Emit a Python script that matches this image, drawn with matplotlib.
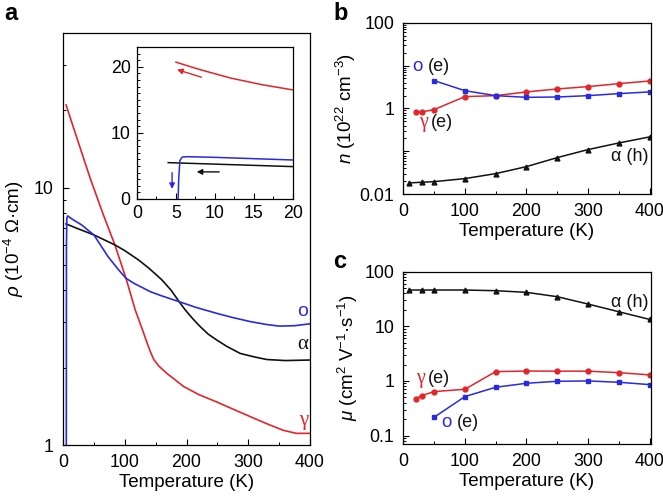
import numpy as np
import matplotlib
matplotlib.use("Agg")
import matplotlib.pyplot as plt
from matplotlib.ticker import LogLocator, MultipleLocator, FuncFormatter, NullFormatter

plt.rcParams['font.family'] = ['Liberation Sans', 'DejaVu Sans']
plt.rcParams['mathtext.fontset'] = 'custom'
plt.rcParams['mathtext.rm'] = 'Liberation Sans'
plt.rcParams['mathtext.it'] = 'Liberation Sans:italic'
plt.rcParams['font.size'] = 12.8
plt.rcParams['axes.labelsize'] = 13.5

BLUE = '#2a2ae0'
RED = '#e3242b'
BLACK = '#111111'

# ---- panel a: resistivity (10^-4 Ohm cm) ----
t_red = [5, 20, 44, 65, 84, 102, 117, 130, 136, 141, 147, 155, 168, 182, 195, 220, 249, 275, 303, 330, 357, 378, 400]
rho_red = [21, 16.3, 10.9, 7.9, 6.0, 4.45, 3.35, 2.75, 2.5, 2.32, 2.15, 2.03, 1.9, 1.79, 1.69, 1.57, 1.47, 1.38, 1.29, 1.21, 1.14, 1.11, 1.11]

t_blue = [5.3, 5.6, 6.2, 7.5, 15, 30, 50, 73, 90, 102, 115, 128, 141, 160, 188, 215, 249, 275, 303, 330, 350, 375, 400]
rho_blue = [0.5, 6.0, 7.6, 7.78, 7.55, 7.18, 6.56, 5.4, 4.8, 4.45, 4.25, 4.1, 3.95, 3.8, 3.61, 3.43, 3.25, 3.13, 3.02, 2.94, 2.9, 2.91, 2.96]

t_black = [5, 20, 50, 84, 100, 122, 140, 160, 175, 188, 198, 210, 222, 235, 249, 265, 287, 310, 330, 360, 400]
rho_black = [7.24, 7.0, 6.56, 6.0, 5.7, 5.25, 4.85, 4.39, 4.0, 3.61, 3.35, 3.1, 2.89, 2.7, 2.56, 2.42, 2.27, 2.2, 2.15, 2.13, 2.14]

# inset (low temperature)
ti_red = [5, 8, 12, 16, 20]
ri_red = [20.7, 19.6, 18.3, 17.3, 16.5]
ti_blue = [5.25, 5.35, 5.5, 5.8, 6.5, 10, 15, 20]
ri_blue = [-1, 3, 5.8, 6.35, 6.4, 6.3, 6.1, 5.9]
ti_black = [4, 20]
ri_black = [5.5, 4.9]

# ---- panel b: carrier density (10^22 cm^-3) ----
t_b_o = [50, 100, 150, 200, 250, 300, 350, 400]
n_o = [4.46, 2.6, 1.99, 1.82, 1.85, 1.99, 2.22, 2.43]
t_b_g = [20, 30, 50, 100, 150, 200, 250, 300, 350, 400]
n_g = [0.81, 0.83, 0.94, 1.89, 1.99, 2.43, 2.85, 3.23, 3.79, 4.37]
t_b_a = [10, 30, 50, 100, 150, 200, 250, 300, 350, 400]
n_a = [0.0184, 0.0191, 0.0197, 0.0232, 0.0303, 0.0441, 0.0715, 0.110, 0.157, 0.217]

# ---- panel c: mobility (cm^2 V^-1 s^-1) ----
t_c_a = [10, 30, 50, 100, 150, 200, 250, 300, 350, 400]
mu_a = [46.2, 46.2, 46.2, 46.2, 44.9, 41.9, 34.9, 25.6, 18.5, 13.4]
t_c_g = [20, 30, 50, 100, 150, 200, 250, 300, 350, 400]
mu_g = [0.469, 0.54, 0.638, 0.704, 1.48, 1.52, 1.51, 1.51, 1.42, 1.29]
t_c_o = [50, 100, 150, 200, 250, 300, 350, 400]
mu_o = [0.216, 0.517, 0.766, 0.906, 0.986, 1.0, 0.946, 0.857]


def style_ax(ax, pad=6.5):
    ax.tick_params(which='both', direction='in', top=False, right=False)
    ax.tick_params(which='major', length=4, width=0.8, pad=pad)
    ax.tick_params(which='minor', length=2.2, width=0.7)
    for s in ax.spines.values():
        s.set_linewidth(0.9)


def log_labels(keep):
    def f(v, pos):
        for k in keep:
            if abs(v - k) / k < 1e-6:
                return ('%g' % k)
        return ''
    return FuncFormatter(f)


fig = plt.figure(figsize=(6.63, 4.96), dpi=100)

# panel a
ax_a = fig.add_axes([0.095, 0.1028, 0.3726, 0.8307])
ax_a.plot(t_red, rho_red, color=RED, lw=1.2)
ax_a.plot(t_black, rho_black, color=BLACK, lw=1.2)
ax_a.plot(t_blue, rho_blue, color=BLUE, lw=1.2)
ax_a.set_yscale('log')
ax_a.set_xlim(0, 400)
ax_a.set_ylim(1, 40)
ax_a.xaxis.set_major_locator(MultipleLocator(100))
ax_a.xaxis.set_minor_locator(MultipleLocator(50))
ax_a.yaxis.set_major_locator(LogLocator(base=10, numticks=10))
ax_a.yaxis.set_minor_locator(LogLocator(base=10, subs=np.arange(2, 10), numticks=20))
ax_a.yaxis.set_major_formatter(log_labels([1, 10]))
ax_a.yaxis.set_minor_formatter(NullFormatter())
style_ax(ax_a)
ax_a.set_xlabel('Temperature (K)', labelpad=2)
ax_a.set_ylabel(r'$\rho$ (10$^{-4}$ Ω·cm)', labelpad=6)
ax_a.text(397, 3.3, 'o', color=BLUE, fontsize=14, ha='right', va='center')
ax_a.text(397, 2.45, 'α', color=BLACK, fontsize=15, ha='right', va='center', family='Liberation Serif')
ax_a.text(397, 1.24, 'γ', color=RED, fontsize=15, ha='right', va='center', family='Liberation Serif')

# inset
ax_i = fig.add_axes([0.2066, 0.5988, 0.2353, 0.3065])
ax_i.plot(ti_red, ri_red, color=RED, lw=1.1)
ax_i.plot(ti_black, ri_black, color=BLACK, lw=1.1)
ax_i.plot(ti_blue, ri_blue, color=BLUE, lw=1.1)
ax_i.set_xlim(0, 20)
ax_i.set_ylim(0, 23)
ax_i.xaxis.set_major_locator(MultipleLocator(5))
ax_i.xaxis.set_minor_locator(MultipleLocator(2.5))
ax_i.yaxis.set_major_locator(MultipleLocator(10))
ax_i.yaxis.set_minor_locator(MultipleLocator(1))
style_ax(ax_i, pad=4.5)
ax_i.annotate('', xy=(4.8, 19.7), xytext=(8.6, 18.3),
              arrowprops=dict(arrowstyle='-|>', color=RED, lw=1.0, mutation_scale=8))
ax_i.annotate('', xy=(7.3, 4.1), xytext=(10.9, 4.1),
              arrowprops=dict(arrowstyle='-|>', color=BLACK, lw=1.0, mutation_scale=8))
ax_i.annotate('', xy=(4.5, 1.1), xytext=(4.5, 4.4),
              arrowprops=dict(arrowstyle='-|>', color=BLUE, lw=1.0, mutation_scale=8))

# panel b
ax_b = fig.add_axes([0.6083, 0.6083, 0.3732, 0.346])
ax_b.plot(t_b_a, n_a, color=BLACK, lw=1.1, marker='^', ms=3.5)
ax_b.plot(t_b_g, n_g, color=RED, lw=1.1, marker='o', ms=3.5)
ax_b.plot(t_b_o, n_o, color=BLUE, lw=1.1, marker='s', ms=3.2)
ax_b.set_yscale('log')
ax_b.set_xlim(0, 402)
ax_b.set_ylim(0.01, 100)
ax_b.xaxis.set_major_locator(MultipleLocator(100))
ax_b.xaxis.set_minor_locator(MultipleLocator(50))
ax_b.yaxis.set_major_locator(LogLocator(base=10, numticks=10))
ax_b.yaxis.set_minor_locator(LogLocator(base=10, subs=np.arange(2, 10), numticks=20))
ax_b.yaxis.set_major_formatter(log_labels([0.01, 1, 100]))
ax_b.yaxis.set_minor_formatter(NullFormatter())
style_ax(ax_b)
ax_b.set_xlabel('Temperature (K)', labelpad=2)
ax_b.set_ylabel(r'$n$ (10$^{22}$ cm$^{-3}$)', labelpad=1)
ax_b.text(15, 9.5, 'o', color=BLUE, fontsize=13.5, ha='left', va='center')
ax_b.text(40, 9.5, '(e)', color=BLACK, fontsize=13, ha='left', va='center')
ax_b.text(26, 0.48, 'γ', color=RED, fontsize=14.5, ha='left', va='center', family='Liberation Serif')
ax_b.text(45, 0.48, '(e)', color=BLACK, fontsize=13, ha='left', va='center')
ax_b.text(398, 0.075, 'α (h)', color=BLACK, fontsize=13, ha='right', va='center')

# panel c
ax_c = fig.add_axes([0.6083, 0.1048, 0.3732, 0.3474])
ax_c.plot(t_c_a, mu_a, color=BLACK, lw=1.1, marker='^', ms=3.5)
ax_c.plot(t_c_g, mu_g, color=RED, lw=1.1, marker='o', ms=3.5)
ax_c.plot(t_c_o, mu_o, color=BLUE, lw=1.1, marker='s', ms=3.2)
ax_c.set_yscale('log')
ax_c.set_xlim(0, 402)
ax_c.set_ylim(0.07, 100)
ax_c.xaxis.set_major_locator(MultipleLocator(100))
ax_c.xaxis.set_minor_locator(MultipleLocator(50))
ax_c.yaxis.set_major_locator(LogLocator(base=10, numticks=10))
ax_c.yaxis.set_minor_locator(LogLocator(base=10, subs=np.arange(2, 10), numticks=20))
ax_c.yaxis.set_major_formatter(log_labels([0.1, 1, 10, 100]))
ax_c.yaxis.set_minor_formatter(NullFormatter())
style_ax(ax_c)
ax_c.set_xlabel('Temperature (K)', labelpad=2)
ax_c.set_ylabel(r'$\mu$ (cm$^2$ V$^{-1}$·s$^{-1}$)', labelpad=3)
ax_c.text(398, 27, 'α (h)', color=BLACK, fontsize=13, ha='right', va='center')
ax_c.text(20, 1.1, 'γ', color=RED, fontsize=14.5, ha='left', va='center', family='Liberation Serif')
ax_c.text(40, 1.1, '(e)', color=BLACK, fontsize=13, ha='left', va='center')
ax_c.text(62, 0.17, 'o', color=BLUE, fontsize=13.5, ha='left', va='center')
ax_c.text(87, 0.17, '(e)', color=BLACK, fontsize=13, ha='left', va='center')

fig.text(0.006, 0.972, 'a', fontsize=17, fontweight='bold', va='center')
fig.text(0.503, 0.972, 'b', fontsize=17, fontweight='bold', va='center')
fig.text(0.503, 0.472, 'c', fontsize=17, fontweight='bold', va='center')

fig.savefig('out.png', dpi=100)
